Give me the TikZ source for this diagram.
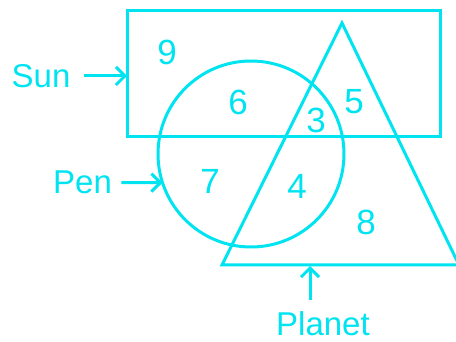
\documentclass[tikz,border=0pt]{standalone}
\usepackage{fontspec}
\setmainfont{Liberation Sans}
\usetikzlibrary{arrows.meta}
\definecolor{cy}{RGB}{0,228,242}
\begin{document}
\begin{tikzpicture}[x=1pt,y=-1pt,line width=3pt,draw=cy,
  lbl/.style={font=\fontsize{33}{33}\selectfont,text=cy,inner sep=0pt},
  num/.style={font=\fontsize{35}{35}\selectfont,text=cy,inner sep=0pt},
  ptr/.style={-{Straight Barb[length=9pt,width=18pt,line width=3pt]}}]
\useasboundingbox (0,0) rectangle (456,342);
% sets
\node[draw,rectangle,minimum width=313pt,minimum height=126pt,inner sep=0pt,outer sep=0pt] (sunbox) at (283.5,74) {};
\node[draw,circle,minimum size=186pt,inner sep=0pt,outer sep=0pt] (penc) at (251,154) {};
\coordinate (A) at (342,23);
\coordinate (B1) at (222,265);
\coordinate (B2) at (459,265);
\draw[line join=miter] (A) -- (B1) -- (B2) -- cycle;
% labels
\node[lbl] (sun) at (41,76) {Sun};
\node[lbl] (pen) at (82.5,182.5) {Pen};
\node[lbl] (planet) at (323,324) {Planet};
\coordinate (pbase) at (310,266);
\coordinate (ptail) at (310,300);
\draw[ptr] ([xshift=12pt]sun.east) -- (sun.east -| sunbox.west);
\draw[ptr] ([xshift=8pt]pen.east) -- (penc.198);
\draw[ptr] (ptail) -- (pbase);
% region numbers
\node[num] (n9) at (167,52) {9};
\node[num] (n6) at (238,102) {6};
\node[num] (n3) at (316,120) {3};
\node[num] (n5) at (354,102) {5};
\node[num] (n7) at (210,181) {7};
\node[num] (n4) at (297,186) {4};
\node[num] (n8) at (366,222) {8};
\end{tikzpicture}
\end{document}
